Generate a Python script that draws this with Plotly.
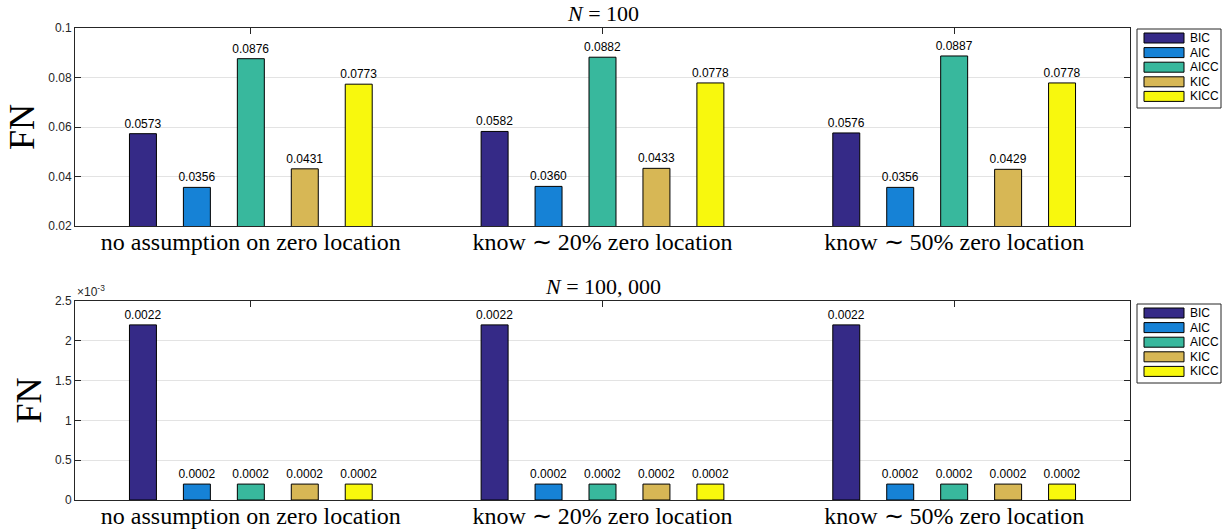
import plotly.graph_objects as go
from plotly.subplots import make_subplots

# Scenario groups along the x axis
groups = ["no assumption on zero location",
          "know \u223c 20% zero location",
          "know \u223c 50% zero location"]
group_pos = [1, 2, 3]

criteria = ["BIC", "AIC", "AICC", "KIC", "KICC"]
colors = ["#352A87", "#1682D6", "#38B89D", "#D7B755", "#F8F80D"]

# FN rates, N = 100 (one list per criterion, across the three groups)
fn_100 = {
    "BIC":  [0.0573, 0.0582, 0.0576],
    "AIC":  [0.0356, 0.0360, 0.0356],
    "AICC": [0.0876, 0.0882, 0.0887],
    "KIC":  [0.0431, 0.0433, 0.0429],
    "KICC": [0.0773, 0.0778, 0.0778],
}
# FN rates, N = 100,000
fn_100k = {
    "BIC":  [0.0022, 0.0022, 0.0022],
    "AIC":  [0.0002, 0.0002, 0.0002],
    "AICC": [0.0002, 0.0002, 0.0002],
    "KIC":  [0.0002, 0.0002, 0.0002],
    "KICC": [0.0002, 0.0002, 0.0002],
}

top_ticks = [0.02, 0.04, 0.06, 0.08, 0.1]
top_ticktext = ["0.02", "0.04", "0.06", "0.08", "0.1"]
bottom_ticks = [0, 0.0005, 0.001, 0.0015, 0.002, 0.0025]
bottom_ticktext = ["0", "0.5", "1", "1.5", "2", "2.5"]

W, H = 1226, 531
ML, MR, MT, MB = 75, 96, 28, 31
plot_w = W - ML - MR
plot_h = H - MT - MB


def px_x(px):
    return (px - ML) / plot_w


def px_y(py):
    return (H - MB - py) / plot_h


top_dom = [px_y(226), 1.0]
bot_dom = [0.0, px_y(301)]

fig = make_subplots(rows=2, cols=1)

sans = "Liberation Sans, Arial, sans-serif"
serif = "Liberation Serif, Times New Roman, serif"
axis_col = "#262626"

for row, data in [(1, fn_100), (2, fn_100k)]:
    for name, col in zip(criteria, colors):
        fig.add_trace(go.Bar(
            x=group_pos, y=data[name], name=name,
            marker=dict(color=col, line=dict(color="black", width=1)),
            text=[f"{v:.4f}" for v in data[name]],
            textposition="outside", cliponaxis=False, constraintext="none",
            textfont=dict(family=sans, size=12, color="black"),
            showlegend=False,
        ), row=row, col=1)

xaxis_common = dict(
    range=[0.5, 3.5], tickvals=group_pos, ticktext=groups,
    tickfont=dict(family=serif, size=24, color="black"),
    ticklabelstandoff=-6,
    showline=True, mirror="ticks", linecolor=axis_col, linewidth=1,
    ticks="inside", ticklen=6, tickcolor=axis_col, showgrid=False,
    zeroline=False, layer="below traces", automargin=False,
)
fig.update_xaxes(**xaxis_common, row=1, col=1)
fig.update_xaxes(**xaxis_common, row=2, col=1)

yaxis_common = dict(
    showline=True, mirror="ticks", linecolor=axis_col, linewidth=1,
    ticks="inside", ticklen=6, tickcolor=axis_col,
    showgrid=True, gridcolor="#E3E3E3", gridwidth=1, zeroline=False,
    tickfont=dict(family=sans, size=12, color=axis_col),
    layer="below traces", automargin=False,
    title=dict(text="FN", font=dict(family=serif, size=36, color="black"),
               standoff=2),
)
fig.update_yaxes(**yaxis_common, range=[0.02, 0.1], tickvals=top_ticks,
                 ticktext=top_ticktext, domain=top_dom, row=1, col=1)
fig.update_yaxes(**yaxis_common, range=[0, 0.0025], tickvals=bottom_ticks,
                 ticktext=bottom_ticktext, domain=bot_dom, row=2, col=1)

# Legend boxes (one per panel) with wide colour swatches
shapes = []
annotations = []
for box_top in (29, 304):
    shapes.append(dict(type="rect", xref="paper", yref="paper",
                       x0=px_x(1137), x1=px_x(1221),
                       y0=px_y(box_top + 79), y1=px_y(box_top),
                       line=dict(color=axis_col, width=1), fillcolor="white"))
    for i, (name, col) in enumerate(zip(criteria, colors)):
        cy = box_top + 9 + i * 14.6
        shapes.append(dict(type="rect", xref="paper", yref="paper",
                           x0=px_x(1144), x1=px_x(1184),
                           y0=px_y(cy + 5), y1=px_y(cy - 5),
                           line=dict(color="black", width=1), fillcolor=col))
        annotations.append(dict(text=name, x=px_x(1188), y=px_y(cy),
                                xref="paper", yref="paper", xanchor="left",
                                yanchor="middle", showarrow=False,
                                font=dict(family=sans, size=12, color="black")))

annotations += [
    dict(text="<i>N</i> = 100", x=0.5, y=top_dom[1], xref="paper",
         yref="paper", xanchor="center", yanchor="bottom", yshift=0,
         showarrow=False, font=dict(family=serif, size=22, color="black")),
    dict(text="<i>N</i> = 100, 000", x=0.5, y=bot_dom[1], xref="paper",
         yref="paper", xanchor="center", yanchor="bottom", yshift=0,
         showarrow=False, font=dict(family=serif, size=22, color="black")),
    dict(text="\u00d710<sup>-3</sup>", x=0, y=bot_dom[1], xref="paper",
         yref="paper", xanchor="left", yanchor="bottom", yshift=0,
         showarrow=False, font=dict(family=sans, size=12, color=axis_col)),
]

fig.update_layout(
    width=W, height=H,
    margin=dict(l=ML, r=MR, t=MT, b=MB),
    paper_bgcolor="white", plot_bgcolor="white",
    barmode="group", bargap=0.233, bargroupgap=0.5,
    showlegend=False,
    shapes=shapes,
    annotations=annotations,
)

fig.write_html("out.html")
